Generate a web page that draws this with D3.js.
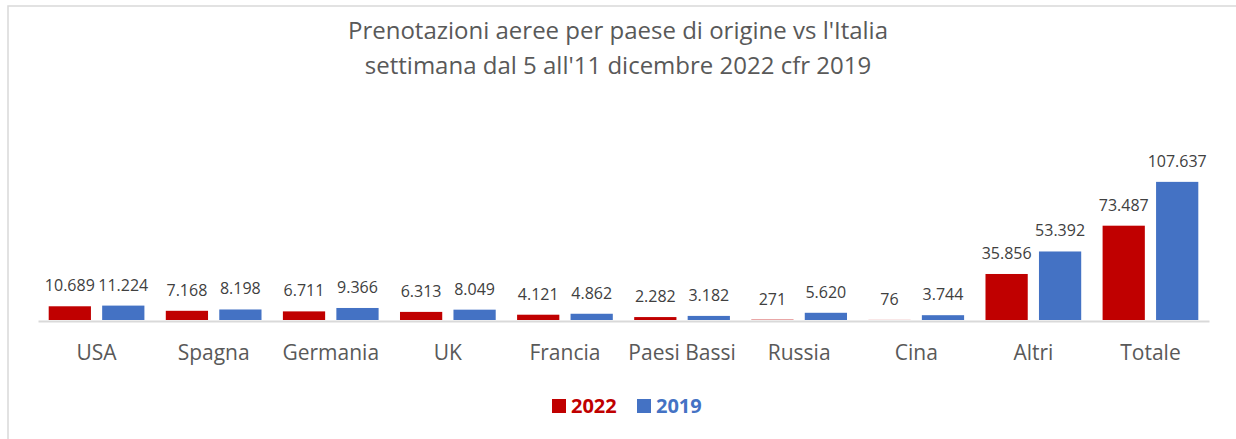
<!DOCTYPE html>
<html>
<head>
    <meta charset="utf-8" />
    <title>Prenotazioni aeree</title>
    <script src="https://d3js.org/d3.v7.min.js"></script>
    <style>
        body { margin: 0; background: #fff; }
        text { font-family: "Open Sans", "Noto Sans", sans-serif; }
    </style>
</head>
<body>
<svg width="1236" height="439"></svg>
<script>
// data
const categories = ["USA", "Spagna", "Germania", "UK", "Francia", "Paesi Bassi", "Russia", "Cina", "Altri", "Totale"];
const values2022 = [10689, 7168, 6711, 6313, 4121, 2282, 271, 76, 35856, 73487];
const values2019 = [11224, 8198, 9366, 8049, 4862, 3182, 5620, 3744, 53392, 107637];
const seriesNames = ["2022", "2019"];
const seriesColors = ["#C00000", "#4472C4"];
const titleLines = ["Prenotazioni aeree per paese di origine vs l'Italia",
                    "settimana dal 5 all'11 dicembre 2022 cfr 2019"];

const svg = d3.select('svg');
const width = +svg.attr('width');
const height = +svg.attr('height');

// chart frame
svg.append('rect')
    .attr('x', 8).attr('y', 6)
    .attr('width', width + 10).attr('height', height + 10)
    .attr('fill', 'none')
    .attr('stroke', '#d9d9d9')
    .attr('stroke-width', 1.5);

// title
svg.selectAll('.title')
    .data(titleLines)
    .enter()
    .append('text')
    .attr('class', 'title')
    .attr('x', width / 2)
    .attr('y', (d, i) => 39 + i * 35)
    .attr('text-anchor', 'middle')
    .attr('fill', '#595959')
    .style('font-size', '24px')
    .text(d => d);

const rows = categories.map((c, i) => ({
    key: c,
    vals: [
        { series: seriesNames[0], value: values2022[i] },
        { series: seriesNames[1], value: values2019[i] }
    ]
}));

const x0 = d3.scaleBand()
    .domain(categories)
    .range([38, 1209])
    .padding(0);

const x1 = d3.scaleBand()
    .domain(seriesNames)
    .range([0, x0.bandwidth()])
    .paddingInner(0.21)
    .paddingOuter(0.2);

const y = d3.scaleLinear()
    .domain([0, 120000])
    .range([320, 166]);

const color = d3.scaleOrdinal().domain(seriesNames).range(seriesColors);

const it = d3.formatLocale({ decimal: ",", thousands: ".", grouping: [3], currency: ["", "€"] });
const fmt = it.format(",d");

// baseline
const xaxisG = svg.append('g')
    .attr('transform', 'translate(0,321)')
    .call(d3.axisBottom(x0).tickSize(0).tickPadding(24));

xaxisG.select('.domain')
    .attr('stroke', '#d9d9d9')
    .attr('stroke-width', 2);

xaxisG.selectAll('.tick text')
    .attr('fill', '#595959')
    .style('font-size', '21px')
    .style('font-family', '"Open Sans", sans-serif');

const groups = svg.selectAll('.grp')
    .data(rows)
    .enter()
    .append('g')
    .attr('class', 'grp')
    .attr('transform', d => 'translate(' + x0(d.key) + ',0)');

groups.selectAll('rect')
    .data(d => d.vals)
    .enter()
    .append('rect')
    .attr('x', d => x1(d.series))
    .attr('y', d => y(d.value))
    .attr('width', x1.bandwidth())
    .attr('height', d => y(0) - y(d.value))
    .attr('fill', d => color(d.series));

groups.selectAll('.lbl')
    .data(d => d.vals)
    .enter()
    .append('text')
    .attr('class', 'lbl')
    .attr('x', d => x1(d.series) + x1.bandwidth() / 2)
    .attr('y', d => y(d.value) - 15)
    .attr('text-anchor', 'middle')
    .attr('fill', '#404040')
    .style('font-size', '16px')
    .text(d => fmt(d.value));

// legend
const legend = svg.append('g');
const legendX = [552, 637];

const item = legend.selectAll('g')
    .data(seriesNames)
    .enter()
    .append('g')
    .attr('transform', (d, i) => 'translate(' + legendX[i] + ',399)');

item.append('rect')
    .attr('width', 14)
    .attr('height', 14)
    .attr('fill', d => color(d));

item.append('text')
    .attr('x', 19)
    .attr('y', 14)
    .attr('fill', d => color(d))
    .style('font-size', '20px')
    .style('font-weight', 'bold')
    .text(d => d);
</script>
</body>
</html>
